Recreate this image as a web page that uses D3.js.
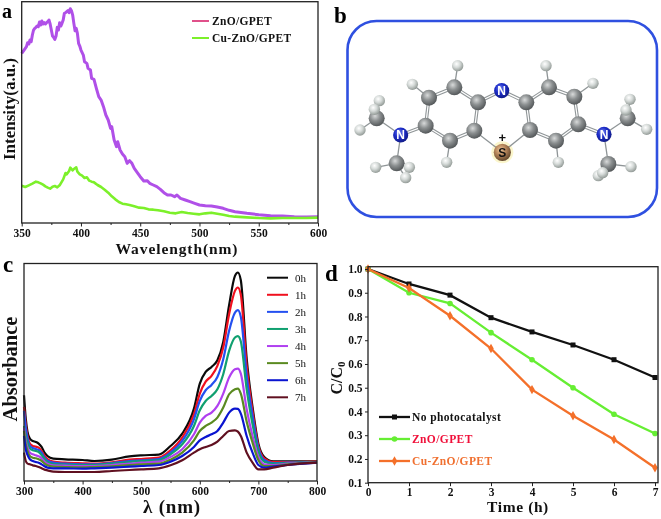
<!DOCTYPE html>
<html><head><meta charset="utf-8">
<script src="https://cdn.jsdelivr.net/npm/d3@7/dist/d3.min.js"></script>
<style>
html,body{margin:0;padding:0;background:#fff}
svg{display:block;filter:blur(0.45px)}
text{font-family:"Liberation Serif",serif;font-weight:bold;fill:#111}
</style></head><body>
<svg id="c" width="661" height="519"></svg>
<script>
// ---------- Panel a ----------
const aTicks=[350,400,450,500,550,600];
const aMinor=[375,425,475,525,575];
const aLegend=["ZnO/GPET","Cu-ZnO/GPET"];
const aZnO=[[350,509],[352,519],[354,529],[355,541],[356,537],[357,549],[358,544],[359,564],[360,579],[361,584],[362,587],[363,591],[364,589],[365,603],[366,594],[367,606],[368,597],[369,601],[370,597],[371,601],[372,604],[373,609],[374,597],[375,579],[376,561],[377,557],[378,551],[379,561],[380,587],[381,579],[382,601],[383,591],[384,599],[385,609],[386,629],[387,631],[388,634],[389,637],[390,631],[391,643],[392,637],[393,624],[394,599],[395,577],[396,584],[397,569],[398,539],[399,531],[400,519],[402,504],[403,484],[405,479],[406,464],[408,459],[409,434],[411,431],[413,404],[415,379],[417,369],[419,349],[421,324],[423,309],[425,284],[426,289],[428,249],[430,229],[431,244],[433,219],[435,207],[437,199],[439,179],[441,187],[443,179],[445,164],[448,149],[450,139],[453,126],[456,127],[458,119],[461,114],[464,109],[467,101],[470,91],[473,84],[476,84],[479,79],[481,84],[484,74],[488,69],[492,64],[496,59],[500,54],[505,52],[510,51],[515,48],[520,44],[525,38],[530,34],[540,29],[550,25],[560,22],[570,21],[580,19],[590,18],[600,19]];
const aCuZnO=[[350,112],[353,108],[356,113],[359,118],[362,124],[364,122],[366,119],[368,115],[370,110],[372,106],[374,103],[376,109],[378,111],[380,107],[382,113],[384,125],[385,131],[387,150],[388,146],[390,156],[391,166],[393,158],[394,162],[396,167],[397,154],[399,146],[401,142],[403,135],[405,137],[407,127],[409,124],[411,122],[414,114],[417,108],[420,100],[423,91],[426,80],[429,71],[432,63],[435,58],[438,56],[441,54],[445,50],[449,46],[453,45],[457,41],[461,40],[465,38],[470,35],[475,31],[480,29],[485,33],[490,30],[495,28],[500,26],[505,29],[510,31],[515,28],[520,25],[525,21],[530,19],[540,17],[550,15],[560,14],[570,15],[580,15],[590,15],[600,16]];
// ---------- Panel c ----------
const cTicks=[300,400,500,600,700,800];
const cMinor=[350,450,550,650,750];
const cLam=[300,303,306,310,315,320,325,330,335,340,350,370,400,420,450,480,500,530,550,570,590,600,610,620,630,640,650,660,665,670,680,690,700,710,725,750,800];
const cLabels=["0h","1h","2h","3h","4h","5h","6h","7h"];
const c0h=[257,187,147,127,120,117,112,102,85,75,67,65,63,60,64,74,77,79,105,142,217,292,327,342,362,417,527,615,625,602,367,222,112,72,59,59,59];
const c1h=[222,170,135,112,105,103,100,90,76,66,58,55,53,52,56,64,66,70,92,130,200,262,298,315,345,400,500,570,580,558,345,210,105,68,57,57,58];
const c2h=[210,160,128,105,99,96,93,85,70,61,55,52,50,50,54,60,62,66,85,120,185,240,272,288,312,365,450,505,512,492,315,195,98,63,54,55,57];
const c3h=[165,135,115,98,92,90,87,78,65,57,51,49,48,48,52,57,60,62,80,110,165,212,240,255,275,320,390,430,434,418,275,170,88,58,52,54,57];
const c4h=[160,120,100,85,80,77,74,68,58,52,47,46,45,45,48,52,55,58,72,95,140,175,195,205,225,262,310,335,337,322,215,135,72,50,48,52,56];
const c5h=[150,110,90,75,70,68,65,60,52,47,43,42,41,42,44,48,50,52,64,85,122,150,165,175,190,220,260,275,277,262,178,115,62,45,45,50,56];
const c6h=[135,95,78,65,60,57,55,50,44,40,38,38,37,38,40,43,45,48,58,75,102,122,132,140,150,175,205,217,216,202,135,85,48,40,43,48,55];
const c7h=[85,60,52,50,47,45,42,38,34,32,28,27,27,27,30,33,35,38,47,62,85,95,102,108,118,135,150,152,148,135,85,55,35,35,40,48,55];
const cColors=["#0a0a0a","#f0101e","#2450f0","#10a070","#b040f0","#5a8a20","#0a14d0","#601020"];
// ---------- Panel d ----------
const dTime=[0,1,2,3,4,5,6,7];
const dYTicks=[0.1,0.2,0.3,0.4,0.5,0.6,0.7,0.8,0.9,1.0];
const dNone=[1,0.937,0.89,0.795,0.735,0.68,0.618,0.543];
const dZnO=[1,0.9,0.855,0.732,0.618,0.5,0.388,0.307];
const dCu=[1,0.92,0.803,0.665,0.492,0.382,0.282,0.163];
const dLabels=["No photocatalyst","ZnO/GPET","Cu-ZnO/GPET"];
const dColors=["#111111","#66ee33","#f4702a"];
const dTextColors=["#111111","#f0103a","#f07030"];
// ---------- Panel b molecule ----------
const atoms=[["C",297,293],["C",373,262],["C",444,307],["C",433,392],["C",360,422],["C",287,377],
["C",589,307],["C",657,262],["C",733,290],["C",745,373],["C",678,422],["C",600,390],
["N",515,272],["N",212,405],["N",822,403],["S",517,457],
["C",140,355],["C",200,490],["C",893,355],["C",835,492],
["H",383,197],["H",247,253],["H",148,302],["H",133,328],["H",90,390],["H",137,502],["H",238,502],["H",227,533],["H",350,487],
["H",648,197],["H",789,250],["H",900,298],["H",888,330],["H",950,388],["H",903,500],["H",805,527],["H",818,518],["H",685,487]];
const doubleBonds=[[0,1],[1,2],[2,3],[3,4],[4,5],[5,0],[2,12],[12,6],[6,7],[7,8],[8,9],[9,10],[10,11],[11,6],[5,13],[9,14]];
const singleBonds=[[3,15],[11,15],[13,16],[13,17],[14,18],[14,19],[1,20],[0,21],[16,22],[16,23],[16,24],[17,25],[17,26],[17,27],[4,28],[7,29],[8,30],[18,31],[18,32],[18,33],[19,34],[19,35],[19,36],[10,37]];

const svg=d3.select("#c");
const defs=svg.append("defs");
function grad(id,a,b,c){const g=defs.append("radialGradient").attr("id",id).attr("cx","40%").attr("cy","35%").attr("r","70%");
 g.append("stop").attr("offset","0%").attr("stop-color",a);g.append("stop").attr("offset","45%").attr("stop-color",b);g.append("stop").attr("offset","100%").attr("stop-color",c);}
grad("gC","#d8dada","#8b8f90","#4c5052");grad("gH","#ffffff","#d5dad8","#8a928e");grad("gN","#7a88f0","#1c2cc8","#101a80");grad("gS","#eec79a","#b5855a","#5a4028");

function frame(x0,y0,x1,y1){svg.append("rect").attr("x",x0).attr("y",y0).attr("width",x1-x0).attr("height",y1-y0).attr("fill","none").attr("stroke","#222").attr("stroke-width",1.3);}
function xAxis(x,y,ticks,minor,fmt){
 const g=svg.append("g").attr("transform",`translate(0,${y})`).call(d3.axisBottom(x).tickValues(ticks).tickSize(3.5).tickPadding(2).tickFormat(fmt));
 g.select(".domain").remove();g.selectAll("text").attr("font-size",11.5).style("font-family","Liberation Serif");g.selectAll("line").attr("stroke","#222");
 if(minor){const m=svg.append("g").attr("transform",`translate(0,${y})`).call(d3.axisBottom(x).tickValues(minor).tickSize(2).tickFormat(""));m.select(".domain").remove();m.selectAll("line").attr("stroke","#222");}
}
function vLabel(t,x,y,s){return svg.append("text").attr("transform",`translate(${x},${y}) rotate(-90)`).attr("text-anchor","middle").attr("font-size",s).text(t);}

// Panel a
const ax=d3.scaleLinear().domain([350,600]).range([21.7,318]);
const ay=d3.scaleLinear().domain([0,664]).range([223,1.7]);
const aLine=d3.line().x(d=>ax(d[0])).y(d=>ay(d[1]));
[aZnO,aCuZnO].forEach((s,i)=>svg.append("path").attr("d",aLine(s)).attr("fill","none").attr("stroke",i?"#7cf02a":"#b050e8").attr("stroke-width",i?2.6:3).attr("stroke-linejoin","round"));
frame(21.7,1.7,318,223);
xAxis(ax,223,aTicks,aMinor,d3.format("d"));
svg.append("text").attr("x",177).attr("y",254).attr("text-anchor","middle").attr("font-size",15.5).attr("letter-spacing",0.9).text("Wavelength(nm)");
vLabel("Intensity(a.u.)",15,109,17);
const aLx=d3.scalePoint().domain(aLegend).range([21,38]);
aLegend.forEach((t,i)=>{const y=aLx(t);
 svg.append("line").attr("x1",192).attr("x2",209).attr("y1",y).attr("y2",y).attr("stroke",i?"#7cf02a":"#e0508a").attr("stroke-width",2);
 svg.append("text").attr("x",212).attr("y",y+4).attr("font-size",11.5).attr("letter-spacing",0.3).text(t);});

// Panel b
svg.append("rect").attr("x",347.5).attr("y",21).attr("width",309.5).attr("height",196).attr("rx",29).attr("fill","none").attr("stroke","#2f50e0").attr("stroke-width",2.6);
const mx=d3.scaleLinear().domain([0,993]).range([330,661]);
const my=d3.scaleLinear().domain([0,780]).range([0,260]);
const rr={C:8,H:5.7,N:7.6,S:8.6};
svg.append("circle").attr("cx",mx(517)).attr("cy",my(457)).attr("r",11).attr("fill","#fbf6cc");
doubleBonds.forEach(([a,b])=>{
 const l=()=>svg.append("line").attr("x1",mx(atoms[a][1])).attr("y1",my(atoms[a][2])).attr("x2",mx(atoms[b][1])).attr("y2",my(atoms[b][2]));
 l().attr("stroke","#8f9597").attr("stroke-width",3.4);l().attr("stroke","#fff").attr("stroke-width",1.2);});
singleBonds.forEach(([a,b])=>svg.append("line").attr("x1",mx(atoms[a][1])).attr("y1",my(atoms[a][2])).attr("x2",mx(atoms[b][1])).attr("y2",my(atoms[b][2])).attr("stroke","#8f9597").attr("stroke-width",1.3));
atoms.forEach(a=>{svg.append("circle").attr("cx",mx(a[1])).attr("cy",my(a[2])).attr("r",rr[a[0]]).attr("fill",`url(#g${a[0]})`);
 if(a[0]==="N"||a[0]==="S")svg.append("text").attr("x",mx(a[1])).attr("y",my(a[2])+4.2).attr("text-anchor","middle").style("font-family","Liberation Sans").attr("font-size",12).style("fill",a[0]==="N"?"#fff":"#111").text(a[0]);});
svg.append("text").attr("x",mx(517)).attr("y",my(413)+4.5).attr("text-anchor","middle").style("font-family","Liberation Sans").attr("font-size",13).text("+");

// Panel c
const cx=d3.scaleLinear().domain([300,800]).range([24,317]);
const cy=d3.scaleLinear().domain([0,652]).range([481,263.5]);
const cSeries=[c0h,c1h,c2h,c3h,c4h,c5h,c6h,c7h];
const cLine=d3.line().x((d,i)=>cx(cLam[i])).y(d=>cy(d)).curve(d3.curveMonotoneX);
cSeries.forEach((s,i)=>svg.append("path").attr("d",cLine(s)).attr("fill","none").attr("stroke",cColors[i]).attr("stroke-width",2.2));
frame(24,263.5,317,481);
xAxis(cx,481,cTicks,cMinor,d3.format("d"));
svg.append("text").attr("x",172).attr("y",513).attr("text-anchor","middle").attr("font-size",19).attr("letter-spacing",0.8).text("λ (nm)");
vLabel("Absorbance",17,369,20.5);
const cLy=d3.scalePoint().domain(cLabels).range([277.7,397.3]);
cLabels.forEach((t,i)=>{const y=cLy(t);
 svg.append("line").attr("x1",267).attr("x2",288).attr("y1",y).attr("y2",y).attr("stroke",cColors[i]).attr("stroke-width",2);
 svg.append("text").attr("x",295).attr("y",y+3.8).attr("font-size",11).style("font-weight","normal").text(t);});

// Panel d
const dx=d3.scaleLinear().domain([0,7]).range([368,655]);
const dy=d3.scaleLinear().domain([0.1,1]).range([482.7,269]);
const dLine=d3.line().x((d,i)=>dx(dTime[i])).y(d=>dy(d));
[dNone,dZnO,dCu].forEach((s,i)=>{
 svg.append("path").attr("d",dLine(s)).attr("fill","none").attr("stroke",dColors[i]).attr("stroke-width",2.3);
 const g=svg.append("g").attr("fill",dColors[i]);
 s.forEach((v,k)=>{
  if(i===0)g.append("rect").attr("x",dx(dTime[k])-2.5).attr("y",dy(v)-2.5).attr("width",5).attr("height",5);
  else if(i===1)g.append("circle").attr("cx",dx(dTime[k])).attr("cy",dy(v)).attr("r",2.8);
  else g.append("path").attr("transform",`translate(${dx(dTime[k])},${dy(v)})`).attr("d",d3.symbol(d3.symbolDiamond,26)());
 });
});
frame(368,266.7,658,482.7);
xAxis(dx,482.7,dTime,null,d3.format("d"));
const yg=svg.append("g").attr("transform","translate(368,0)").call(d3.axisLeft(dy).tickValues(dYTicks).tickSize(3).tickPadding(2.5).tickFormat(d3.format(".1f")));
yg.select(".domain").remove();yg.selectAll("text").attr("font-size",11.5).style("font-family","Liberation Serif");yg.selectAll("line").attr("stroke","#222");
svg.append("text").attr("x",518).attr("y",512).attr("text-anchor","middle").attr("font-size",15.5).attr("letter-spacing",0.6).text("Time (h)");
const cc=svg.append("text").attr("transform","translate(342,378) rotate(-90)").attr("text-anchor","middle").attr("font-size",16).text("C/C");
cc.append("tspan").attr("dy",3).attr("font-size",11).text("0");
const dLy=d3.scalePoint().domain(dLabels).range([417,461]);
dLabels.forEach((t,i)=>{const y=dLy(t);
 svg.append("line").attr("x1",379).attr("x2",410).attr("y1",y).attr("y2",y).attr("stroke",dColors[i]).attr("stroke-width",2.3);
 const mid=394.5;
 if(i===0)svg.append("rect").attr("x",mid-2.5).attr("y",y-2.5).attr("width",5).attr("height",5).attr("fill",dColors[i]);
 else if(i===1)svg.append("circle").attr("cx",mid).attr("cy",y).attr("r",2.8).attr("fill",dColors[i]);
 else svg.append("path").attr("transform",`translate(${mid},${y})`).attr("d",d3.symbol(d3.symbolDiamond,26)()).attr("fill",dColors[i]);
 svg.append("text").attr("x",412).attr("y",y+4).attr("font-size",11.5).attr("letter-spacing",0.4).style("fill",dTextColors[i]).text(t);});

// Panel letters
const panelLetters=[["a",2,18,20],["b",334,23,23],["c",3,272,23],["d",325,281,23]];
panelLetters.forEach(p=>svg.append("text").attr("x",p[1]).attr("y",p[2]).attr("font-size",p[3]).style("fill","#000").text(p[0]));
</script></body></html>
